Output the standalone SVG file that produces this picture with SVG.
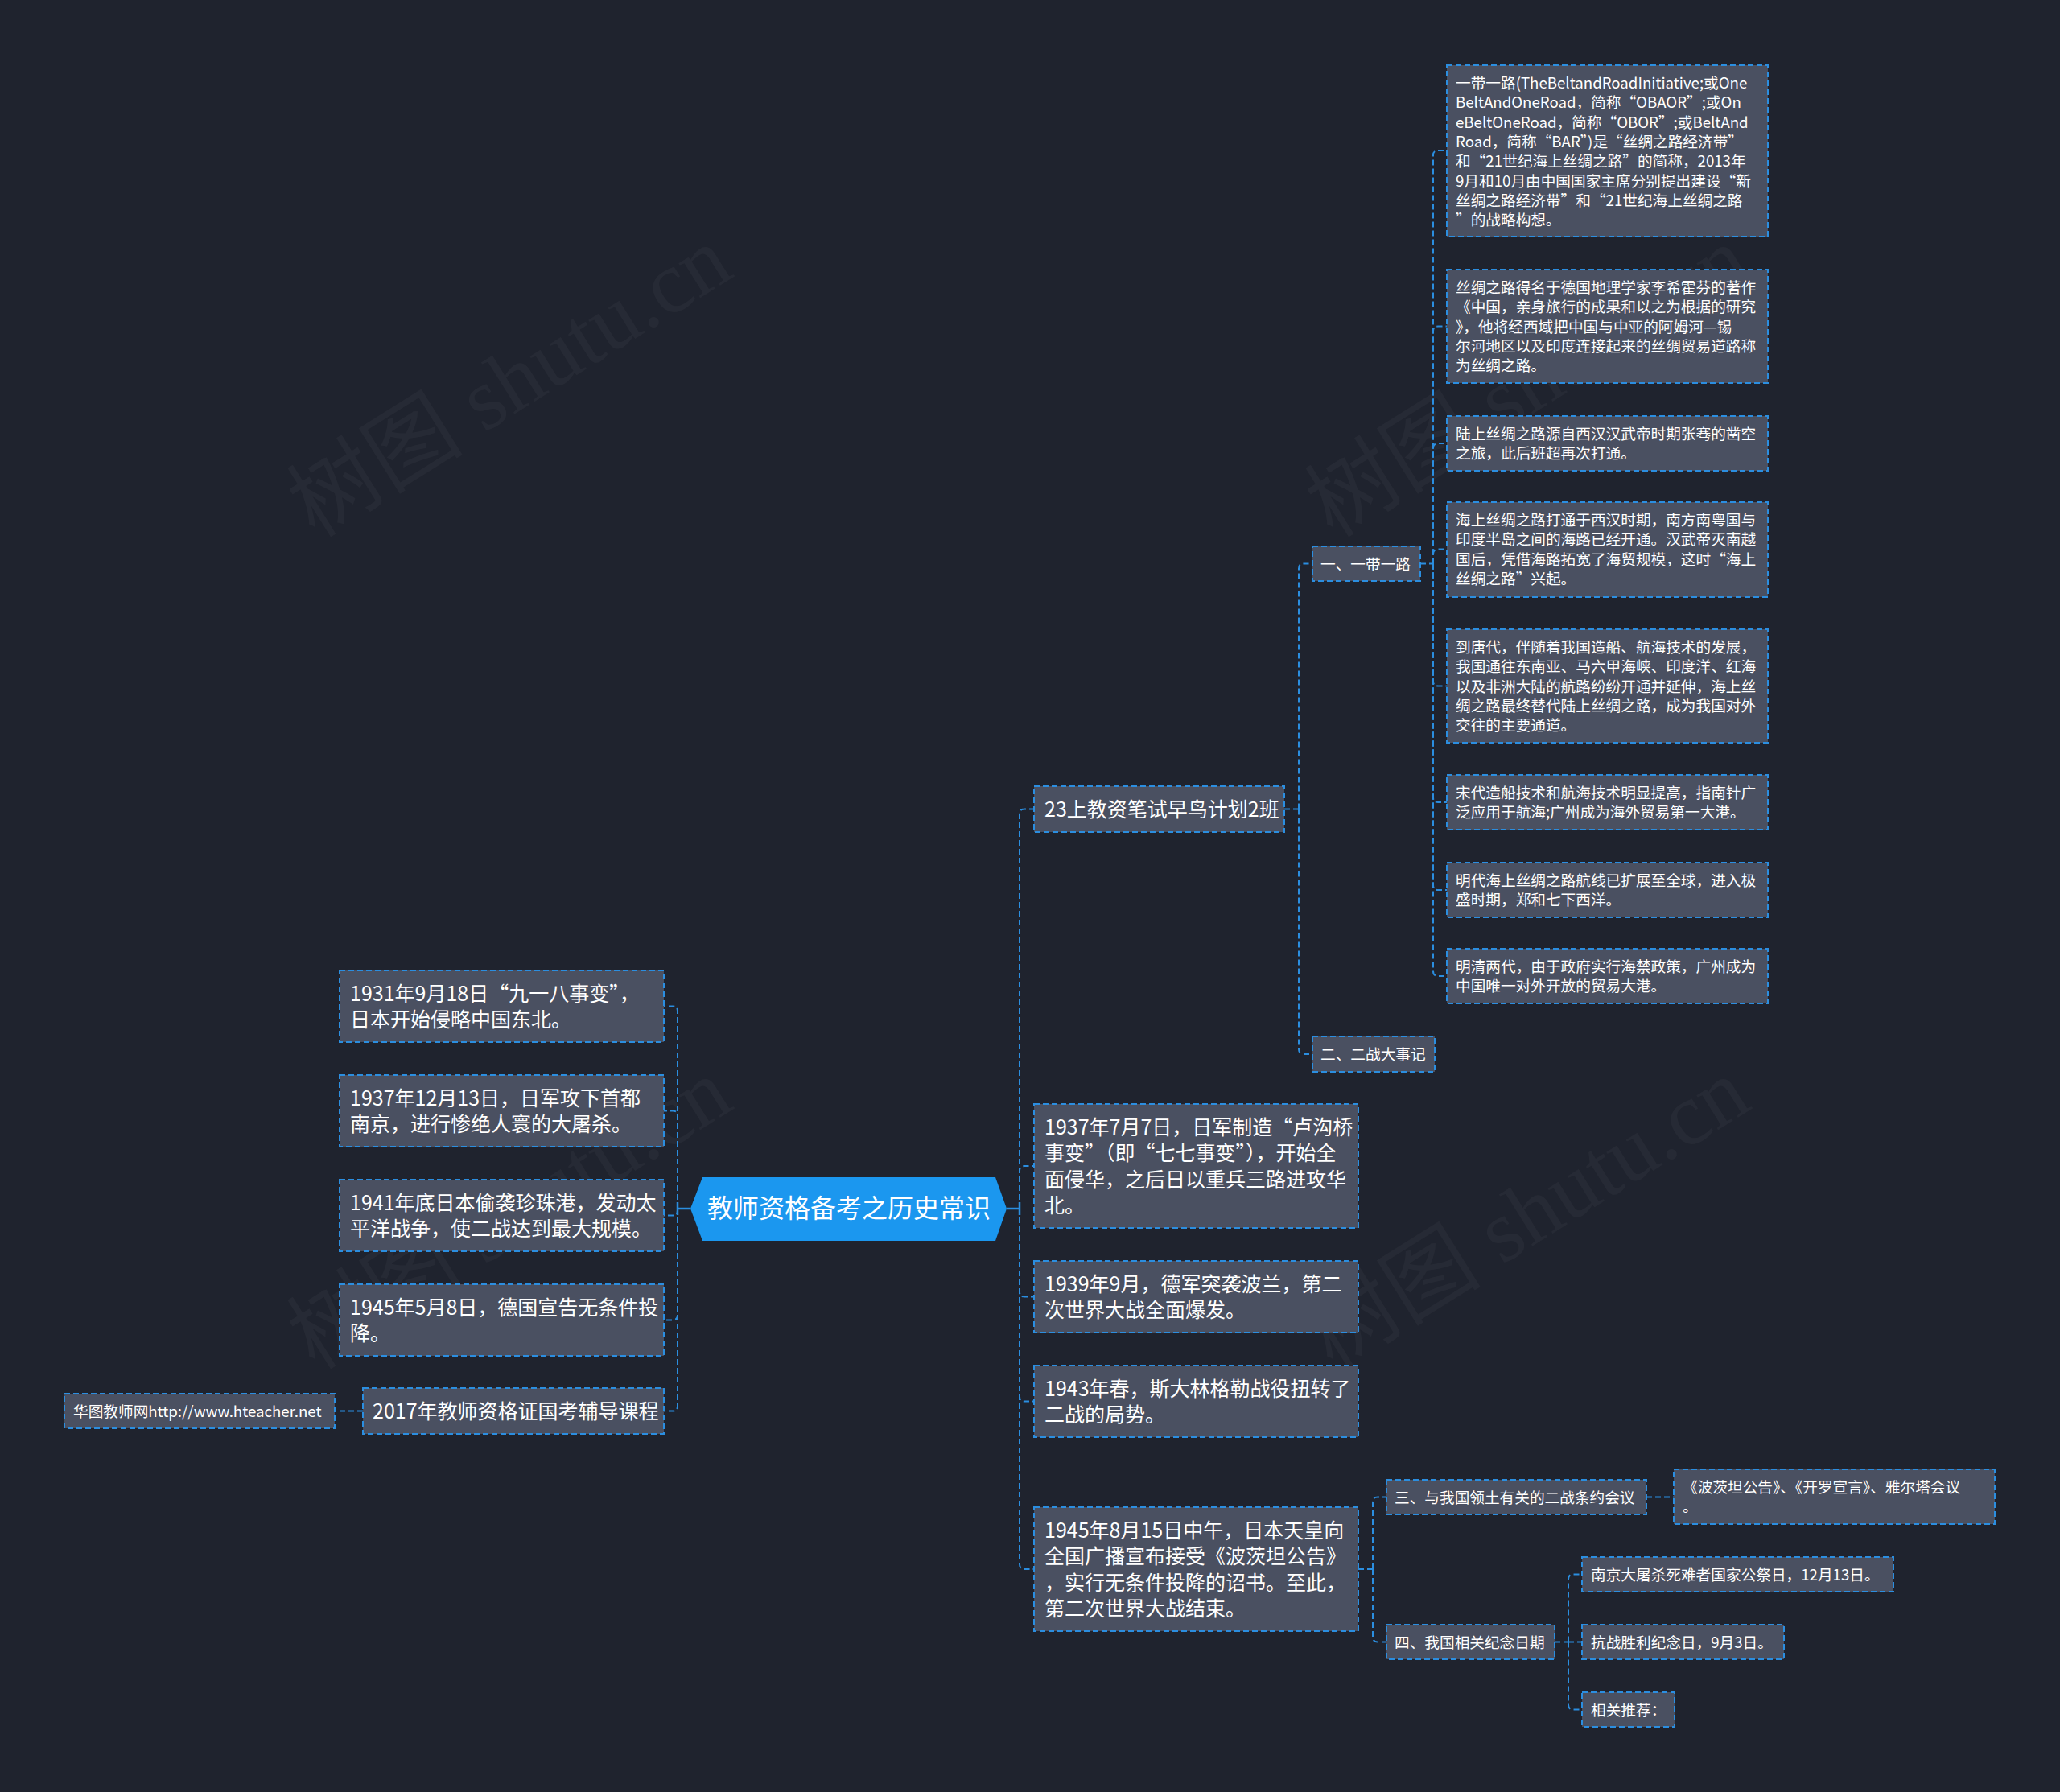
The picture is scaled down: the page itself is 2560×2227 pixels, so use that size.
<svg xmlns="http://www.w3.org/2000/svg" width="2560" height="2227" viewBox="0 0 2560 2227">
<defs>
<style>
.bg{fill:#1f232e}
.wm{font-family:"Liberation Serif","Noto Sans CJK SC",serif;font-size:110px;fill:#ffffff;fill-opacity:0.035}
.n rect{fill:#4a5061;stroke:#2b8ee0;stroke-width:2;stroke-dasharray:7 4}
.t1{font-family:"Noto Sans CJK SC","Noto Sans",sans-serif;font-size:25px;fill:#ffffff}
.t2{font-family:"Noto Sans CJK SC","Noto Sans",sans-serif;font-size:18.67px;fill:#ffffff}
.tr{font-family:"Noto Sans CJK SC","Noto Sans",sans-serif;font-size:32px;fill:#ffffff}
.c{fill:none;stroke:#2b8ee0;stroke-width:2;stroke-dasharray:7 4}
.cs{fill:none;stroke:#2b8ee0;stroke-width:2.5}
</style>
</defs>
<rect class="bg" x="0" y="0" width="2560" height="2227"/>
<g id="watermarks">
<text class="wm" x="653" y="506" text-anchor="middle" transform="rotate(-32 653 506)">树图 shutu.cn</text>
<text class="wm" x="1918" y="506" text-anchor="middle" transform="rotate(-32 1918 506)">树图 shutu.cn</text>
<text class="wm" x="653" y="1540" text-anchor="middle" transform="rotate(-32 653 1540)">树图 shutu.cn</text>
<text class="wm" x="1918" y="1540" text-anchor="middle" transform="rotate(-32 1918 1540)">树图 shutu.cn</text>
</g>
<g id="connectors">
<path class="cs" d="M1251,1502 H1267 M1267,1494 V1510"/>
<path class="c" d="M1267,1502 V1011.5 Q1267,1005.5 1273,1005.5 H1285"/>
<path class="c" d="M1267,1502 V1455 Q1267,1449 1273,1449 H1285"/>
<path class="c" d="M1267,1502 V1605.5 Q1267,1611.5 1273,1611.5 H1285"/>
<path class="c" d="M1267,1502 V1735.5 Q1267,1741.5 1273,1741.5 H1285"/>
<path class="c" d="M1267,1502 V1944 Q1267,1950 1273,1950 H1285"/>
<path class="cs" d="M858,1502 H842 M842,1494 V1510"/>
<path class="c" d="M842,1502 V1256.5 Q842,1250.5 836,1250.5 H825"/>
<path class="c" d="M842,1502 V1386.5 Q842,1380.5 836,1380.5 H825"/>
<path class="c" d="M842,1502 V1504.5 Q842,1510.5 836,1510.5 H825"/>
<path class="c" d="M842,1502 V1634.5 Q842,1640.5 836,1640.5 H825"/>
<path class="c" d="M842,1502 V1747.5 Q842,1753.5 836,1753.5 H825"/>
<path class="c" d="M451,1753.5 H416"/>
<path class="c" d="M1596,1005.5 H1614"/>
<path class="c" d="M1614,1005.5 V706.5 Q1614,700.5 1620,700.5 H1631"/>
<path class="c" d="M1614,1005.5 V1304 Q1614,1310 1620,1310 H1631"/>
<path class="c" d="M1765,700.5 H1781"/>
<path class="c" d="M1781,700.5 V193 Q1781,187 1787,187 H1798"/>
<path class="c" d="M1781,700.5 V411.5 Q1781,405.5 1787,405.5 H1798"/>
<path class="c" d="M1781,700.5 V557 Q1781,551 1787,551 H1798"/>
<path class="c" d="M1781,700.5 V688.5 Q1781,682.5 1787,682.5 H1798"/>
<path class="c" d="M1781,700.5 V846.5 Q1781,852.5 1787,852.5 H1798"/>
<path class="c" d="M1781,700.5 V991 Q1781,997 1787,997 H1798"/>
<path class="c" d="M1781,700.5 V1100 Q1781,1106 1787,1106 H1798"/>
<path class="c" d="M1781,700.5 V1207 Q1781,1213 1787,1213 H1798"/>
<path class="c" d="M1688,1950 H1706"/>
<path class="c" d="M1706,1950 V1866.5 Q1706,1860.5 1712,1860.5 H1723"/>
<path class="c" d="M1706,1950 V2034.5 Q1706,2040.5 1712,2040.5 H1723"/>
<path class="c" d="M2046,1860.5 H2080"/>
<path class="c" d="M1932,2040.5 H1949"/>
<path class="c" d="M1949,2040.5 V1962.5 Q1949,1956.5 1955,1956.5 H1966"/>
<path class="c" d="M1949,2040.5 H1966"/>
<path class="c" d="M1949,2040.5 V2118.5 Q1949,2124.5 1955,2124.5 H1966"/>
</g>
<g id="root">
<polygon points="858,1502 873,1463 1237,1463 1251,1502 1237,1542 873,1542" fill="#1b97ef"/>
<text class="tr" x="1055" y="1513" text-anchor="middle">教师资格备考之历史常识</text>
</g>
<g id="n-23" class="n">
<rect x="1285" y="977" width="311" height="57"/>
<text class="t1" x="1298" y="1015">23上教资笔试早鸟计划2班</text>
</g>
<g id="n-yidaiyilu" class="n">
<rect x="1631" y="679" width="134" height="43"/>
<text class="t2" x="1641" y="708">一、一带一路</text>
</g>
<g id="n-erzhan" class="n">
<rect x="1631" y="1288" width="152" height="44"/>
<text class="t2" x="1641" y="1317">二、二战大事记</text>
</g>
<g id="leaf-1" class="n">
<rect x="1798" y="81" width="399" height="213"/>
<text class="t2"><tspan x="1809" y="110">一带一路(TheBeltandRoadInitiative;或One</tspan><tspan x="1809" y="134.3">BeltAndOneRoad，简称“OBAOR”;或On</tspan><tspan x="1809" y="158.6">eBeltOneRoad，简称“OBOR”;或BeltAnd</tspan><tspan x="1809" y="182.9">Road，简称“BAR”)是“丝绸之路经济带”</tspan><tspan x="1809" y="207.2">和“21世纪海上丝绸之路”的简称，2013年</tspan><tspan x="1809" y="231.5">9月和10月由中国国家主席分别提出建设“新</tspan><tspan x="1809" y="255.8">丝绸之路经济带”和“21世纪海上丝绸之路</tspan><tspan x="1809" y="280.1">”的战略构想。</tspan></text>
</g>
<g id="leaf-2" class="n">
<rect x="1798" y="335" width="399" height="141"/>
<text class="t2"><tspan x="1809" y="364">丝绸之路得名于德国地理学家李希霍芬的著作</tspan><tspan x="1809" y="388.3">《中国，亲身旅行的成果和以之为根据的研究</tspan><tspan x="1809" y="412.6">》，他将经西域把中国与中亚的阿姆河—锡</tspan><tspan x="1809" y="436.9">尔河地区以及印度连接起来的丝绸贸易道路称</tspan><tspan x="1809" y="461.2">为丝绸之路。</tspan></text>
</g>
<g id="leaf-3" class="n">
<rect x="1798" y="517" width="399" height="68"/>
<text class="t2"><tspan x="1809" y="546">陆上丝绸之路源自西汉汉武帝时期张骞的凿空</tspan><tspan x="1809" y="570.3">之旅，此后班超再次打通。</tspan></text>
</g>
<g id="leaf-4" class="n">
<rect x="1798" y="624" width="399" height="118"/>
<text class="t2"><tspan x="1809" y="653">海上丝绸之路打通于西汉时期，南方南粤国与</tspan><tspan x="1809" y="677.3">印度半岛之间的海路已经开通。汉武帝灭南越</tspan><tspan x="1809" y="701.6">国后，凭借海路拓宽了海贸规模，这时“海上</tspan><tspan x="1809" y="725.9">丝绸之路”兴起。</tspan></text>
</g>
<g id="leaf-5" class="n">
<rect x="1798" y="782" width="399" height="141"/>
<text class="t2"><tspan x="1809" y="811">到唐代，伴随着我国造船、航海技术的发展，</tspan><tspan x="1809" y="835.3">我国通往东南亚、马六甲海峡、印度洋、红海</tspan><tspan x="1809" y="859.6">以及非洲大陆的航路纷纷开通并延伸，海上丝</tspan><tspan x="1809" y="883.9">绸之路最终替代陆上丝绸之路，成为我国对外</tspan><tspan x="1809" y="908.2">交往的主要通道。</tspan></text>
</g>
<g id="leaf-6" class="n">
<rect x="1798" y="963" width="399" height="68"/>
<text class="t2"><tspan x="1809" y="992">宋代造船技术和航海技术明显提高，指南针广</tspan><tspan x="1809" y="1016.3">泛应用于航海;广州成为海外贸易第一大港。</tspan></text>
</g>
<g id="leaf-7" class="n">
<rect x="1798" y="1072" width="399" height="68"/>
<text class="t2"><tspan x="1809" y="1101">明代海上丝绸之路航线已扩展至全球，进入极</tspan><tspan x="1809" y="1125.3">盛时期，郑和七下西洋。</tspan></text>
</g>
<g id="leaf-8" class="n">
<rect x="1798" y="1179" width="399" height="68"/>
<text class="t2"><tspan x="1809" y="1208">明清两代，由于政府实行海禁政策，广州成为</tspan><tspan x="1809" y="1232.3">中国唯一对外开放的贸易大港。</tspan></text>
</g>
<g id="n-1937" class="n">
<rect x="1285" y="1372" width="403" height="154"/>
<text class="t1"><tspan x="1298" y="1409.75">1937年7月7日，日军制造“卢沟桥</tspan><tspan x="1298" y="1442.25">事变”（即“七七事变”），开始全</tspan><tspan x="1298" y="1474.75">面侵华，之后日以重兵三路进攻华</tspan><tspan x="1298" y="1507.25">北。</tspan></text>
</g>
<g id="n-1939" class="n">
<rect x="1285" y="1567" width="403" height="89"/>
<text class="t1"><tspan x="1298" y="1604.75">1939年9月，德军突袭波兰，第二</tspan><tspan x="1298" y="1637.25">次世界大战全面爆发。</tspan></text>
</g>
<g id="n-1943" class="n">
<rect x="1285" y="1697" width="403" height="89"/>
<text class="t1"><tspan x="1298" y="1734.75">1943年春，斯大林格勒战役扭转了</tspan><tspan x="1298" y="1767.25">二战的局势。</tspan></text>
</g>
<g id="n-1945" class="n">
<rect x="1285" y="1873" width="403" height="154"/>
<text class="t1"><tspan x="1298" y="1910.75">1945年8月15日中午，日本天皇向</tspan><tspan x="1298" y="1943.25">全国广播宣布接受《波茨坦公告》</tspan><tspan x="1298" y="1975.75">，实行无条件投降的诏书。至此，</tspan><tspan x="1298" y="2008.25">第二次世界大战结束。</tspan></text>
</g>
<g id="n-san" class="n">
<rect x="1723" y="1839" width="323" height="43"/>
<text class="t2" x="1733" y="1868">三、与我国领土有关的二战条约会议</text>
</g>
<g id="n-potsdam" class="n">
<rect x="2080" y="1826" width="399" height="68"/>
<text class="t2"><tspan x="2091" y="1855">《波茨坦公告》、《开罗宣言》、雅尔塔会议</tspan><tspan x="2091" y="1879.3">。</tspan></text>
</g>
<g id="n-si" class="n">
<rect x="1723" y="2019" width="209" height="43"/>
<text class="t2" x="1733" y="2048">四、我国相关纪念日期</text>
</g>
<g id="n-nanjing" class="n">
<rect x="1966" y="1935" width="387" height="43"/>
<text class="t2" x="1977" y="1964">南京大屠杀死难者国家公祭日，12月13日。</text>
</g>
<g id="n-kangzhan" class="n">
<rect x="1966" y="2019" width="251" height="43"/>
<text class="t2" x="1977" y="2048">抗战胜利纪念日，9月3日。</text>
</g>
<g id="n-tuijian" class="n">
<rect x="1966" y="2103" width="115" height="43"/>
<text class="t2" x="1977" y="2132">相关推荐：</text>
</g>
<g id="n-1931" class="n">
<rect x="422" y="1206" width="403" height="89"/>
<text class="t1"><tspan x="435" y="1243.75">1931年9月18日“九一八事变”，</tspan><tspan x="435" y="1276.25">日本开始侵略中国东北。</tspan></text>
</g>
<g id="n-1937L" class="n">
<rect x="422" y="1336" width="403" height="89"/>
<text class="t1"><tspan x="435" y="1373.75">1937年12月13日，日军攻下首都</tspan><tspan x="435" y="1406.25">南京，进行惨绝人寰的大屠杀。</tspan></text>
</g>
<g id="n-1941" class="n">
<rect x="422" y="1466" width="403" height="89"/>
<text class="t1"><tspan x="435" y="1503.75">1941年底日本偷袭珍珠港，发动太</tspan><tspan x="435" y="1536.25">平洋战争，使二战达到最大规模。</tspan></text>
</g>
<g id="n-1945L" class="n">
<rect x="422" y="1596" width="403" height="89"/>
<text class="t1"><tspan x="435" y="1633.75">1945年5月8日，德国宣告无条件投</tspan><tspan x="435" y="1666.25">降。</tspan></text>
</g>
<g id="n-2017" class="n">
<rect x="451" y="1725" width="374" height="57"/>
<text class="t1" x="463" y="1762.75">2017年教师资格证国考辅导课程</text>
</g>
<g id="n-huatu" class="n">
<rect x="80" y="1732" width="336" height="43"/>
<text class="t2" x="91" y="1761">华图教师网http://www.hteacher.net</text>
</g>
</svg>
